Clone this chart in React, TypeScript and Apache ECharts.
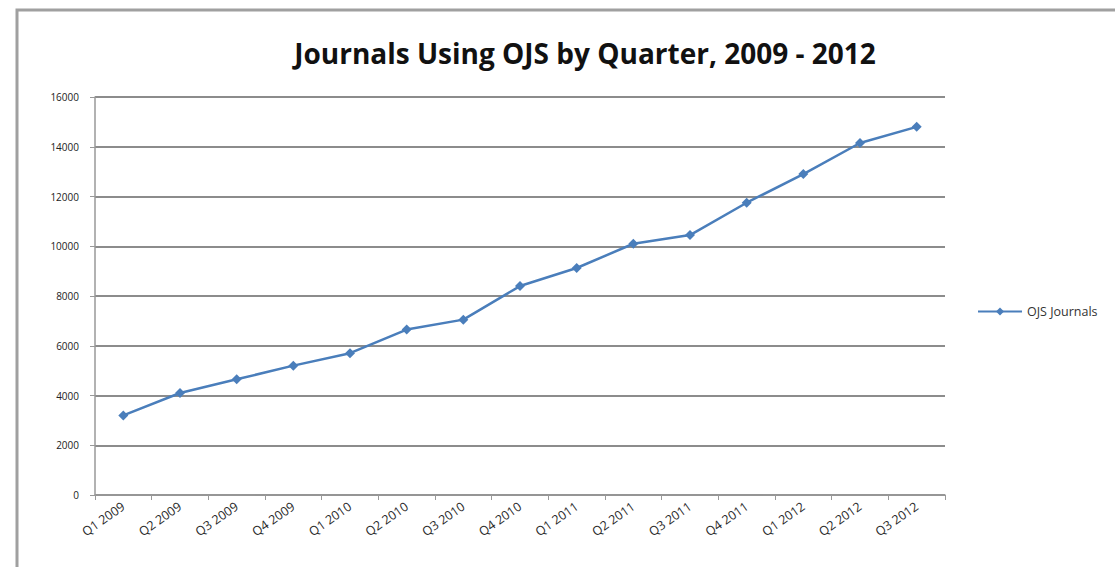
import React, { useEffect, useRef } from "react";
import * as echarts from "echarts";

const categories = [
  "Q1 2009", "Q2 2009", "Q3 2009", "Q4 2009",
  "Q1 2010", "Q2 2010", "Q3 2010", "Q4 2010",
  "Q1 2011", "Q2 2011", "Q3 2011", "Q4 2011",
  "Q1 2012", "Q2 2012", "Q3 2012",
];
const ojsJournals = [
  3200, 4100, 4650, 5200,
  5700, 6650, 7050, 8400,
  9125, 10100, 10450, 11750,
  12900, 14150, 14800,
];
const seriesName = "OJS Journals";
const titleText = "Journals Using OJS by Quarter, 2009 - 2012";

export default function App() {
  const ref = useRef<HTMLDivElement>(null);
  useEffect(() => {
    if (!ref.current) return;
    const chart = echarts.init(ref.current, null, { renderer: "svg" });
    chart.setOption({
      animation: false,
      backgroundColor: "#ffffff",
      title: {
        text: titleText,
        left: 580,
        textAlign: "center",
        top: 34,
        textStyle: {
          fontFamily: "Open Sans",
          fontWeight: "bold",
          fontSize: 28,
          color: "#111",
        },
      },
      graphic: [
        {
          type: "rect",
          shape: { x: 17, y: 10, width: 1110, height: 570 },
          style: { fill: "none", stroke: "#a0a0a0", lineWidth: 3 },
          silent: true,
        },
      ],
      legend: {
        data: [seriesName],
        left: 972,
        top: 300,
        itemWidth: 44,
        itemHeight: 10,
        itemGap: 2,
        textStyle: { fontFamily: "Open Sans", fontSize: 12.5, color: "#333" },
      },
      grid: { left: 95, right: 170, top: 97, bottom: 72 },
      xAxis: {
        type: "category",
        data: categories,
        boundaryGap: true,
        axisLine: { lineStyle: { color: "#999", width: 1.5 } },
        axisTick: { show: true, length: 5, lineStyle: { color: "#999" } },
        axisLabel: {
          rotate: 35,
          fontSize: 12.5,
          fontFamily: "Open Sans",
          color: "#2a2a2a",
          margin: 10,
          interval: 0,
        },
      },
      yAxis: {
        type: "value",
        min: 0,
        max: 16000,
        interval: 2000,
        axisLine: { show: true, lineStyle: { color: "#999", width: 1.5 } },
        axisTick: { show: true, length: 5, lineStyle: { color: "#999" } },
        axisLabel: {
          fontSize: 10,
          fontFamily: "Open Sans",
          color: "#222",
          margin: 16,
          formatter: (v: number) => String(v),
        },
        splitLine: { lineStyle: { color: "#8c8c8c", width: 2 } },
      },
      series: [
        {
          name: seriesName,
          type: "line",
          data: ojsJournals,
          symbol: "diamond",
          symbolSize: 10,
          lineStyle: { color: "#4a7ebb", width: 2.5 },
          itemStyle: { color: "#4a7ebb" },
        },
      ],
    });
    return () => chart.dispose();
  }, []);
  return (
    <div
      ref={ref}
      style={{ position: "fixed", left: 0, top: 0, width: 1115, height: 567 }}
    />
  );
}
